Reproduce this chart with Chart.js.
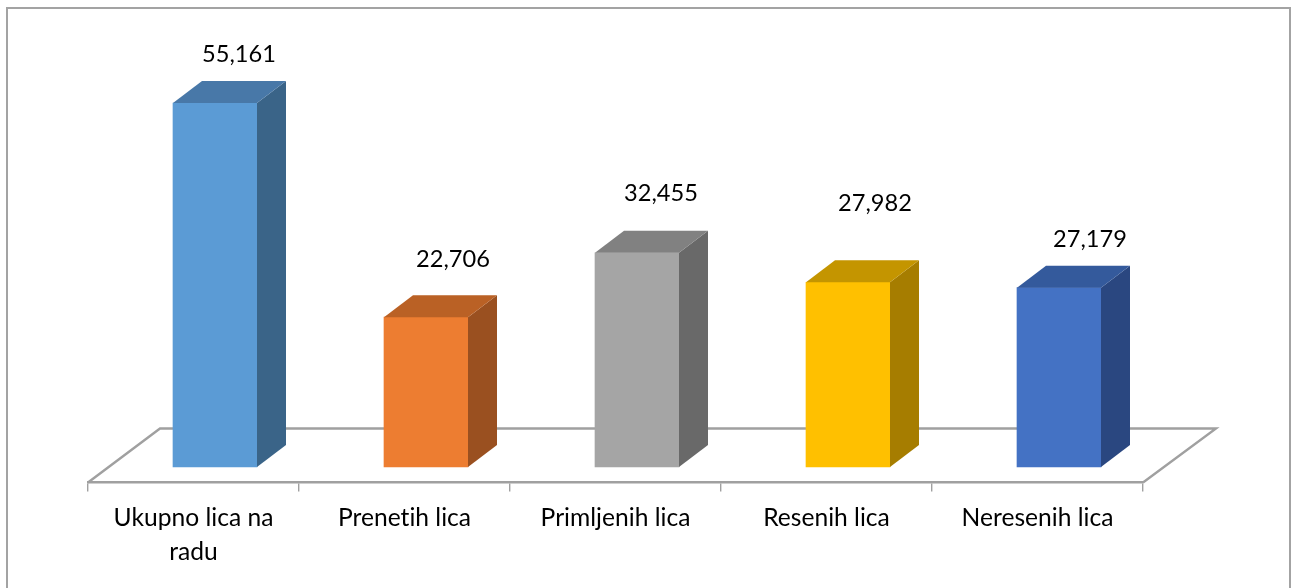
<!DOCTYPE html>
<html>
<head>
<meta charset="utf-8">
<style>html,body{margin:0;padding:0;background:#fff;overflow:hidden}canvas{display:block}</style>
<script src="https://cdn.jsdelivr.net/npm/chart.js@4"></script>
</head>
<body>
<canvas id="c" width="1291" height="588"></canvas>
<script>
const categories = [['Ukupno lica na','radu'],'Prenetih lica','Primljenih lica','Resenih lica','Neresenih lica'];
const values = [55161, 22706, 32455, 27982, 27179];
const frontColors = ['#5B9BD5','#ED7D31','#A5A5A5','#FFC000','#4472C4'];
const topColors   = ['#4878A8','#BA6125','#818181','#C49500','#345A9C'];
const sideColors  = ['#3A6488','#9A5020','#696969','#A67D00','#2A4780'];
const labelDx = [24, 27, 24, 27, 31];
const labelDy = [-49, -58, -59, -79, -48.5];
const DX = 29, DY = -22, BAR_SHIFT = 21.5;
const AXIS = '#A0A0A0';
const FONT = 'Lato, sans-serif';

const box3d = {
  id:'box3d',
  afterDatasetsUpdate(ch){
    ch.getDatasetMeta(0).data.forEach(b=>{b.x += BAR_SHIFT;});
  },
  beforeDraw(ch){
    const c = ch.ctx; c.save();
    c.strokeStyle = '#A3A3A3'; c.lineWidth = 2;
    c.beginPath(); c.moveTo(7,588); c.lineTo(7,8); c.lineTo(1290,8); c.lineTo(1290,588); c.stroke();
    c.restore();
    c.letterSpacing = '0.01px';
  },
  beforeDatasetsDraw(ch){
    const c = ch.ctx, a = ch.chartArea; c.save();
    c.strokeStyle = AXIS; c.lineWidth = 2.4; c.lineJoin='miter';
    const fy = a.bottom, by = fy - 54, fdx = 72;
    c.beginPath();
    c.moveTo(a.left,fy); c.lineTo(a.left+fdx,by); c.lineTo(a.right+fdx+1,by); c.lineTo(a.right,fy);
    c.stroke();
    c.restore();
  },
  afterDatasetsDraw(ch){
    const c = ch.ctx; c.save();
    ch.getDatasetMeta(0).data.forEach((b,i)=>{
      const l=b.x-b.width/2, r=b.x+b.width/2, t=b.y, bt=b.base;
      c.fillStyle = sideColors[i];
      c.beginPath(); c.moveTo(r,t); c.lineTo(r+DX,t+DY); c.lineTo(r+DX,bt+DY); c.lineTo(r,bt); c.closePath(); c.fill();
      c.fillStyle = topColors[i];
      c.beginPath(); c.moveTo(l,t); c.lineTo(l+DX,t+DY); c.lineTo(r+DX,t+DY); c.lineTo(r,t); c.closePath(); c.fill();
      c.fillStyle = '#000'; c.font = '23.6px '+FONT; c.textAlign='center'; c.textBaseline='middle';
      c.fillText(values[i].toLocaleString('en-US'), b.x+labelDx[i], t+labelDy[i]);
    });
    c.restore();
  }
};

new Chart(document.getElementById('c'),{
  type:'bar',
  data:{labels:categories,datasets:[{data:values,backgroundColor:frontColors,barThickness:84,borderWidth:0,clip:false}]},
  plugins:[box3d],
  options:{
    responsive:false,animation:false,
    layout:{padding:{left:88,right:148,top:20,bottom:0}},
    plugins:{legend:{display:false},tooltip:{enabled:false},title:{display:false}},
    scales:{
      y:{display:false,min:-2350,max:67740},
      x:{
        offset:true,
        afterFit(s){s.height=105.5;},
        border:{display:true,color:AXIS,width:2.4},
        grid:{display:true,drawOnChartArea:false,drawTicks:true,tickLength:9,color:AXIS,lineWidth:1.4,offset:true},
        ticks:{color:'#000',font:{family:FONT,size:24.6,lineHeight:1.36},padding:10,maxRotation:0,minRotation:0,autoSkip:false}
      }
    }
  }
});
</script>
</body>
</html>
